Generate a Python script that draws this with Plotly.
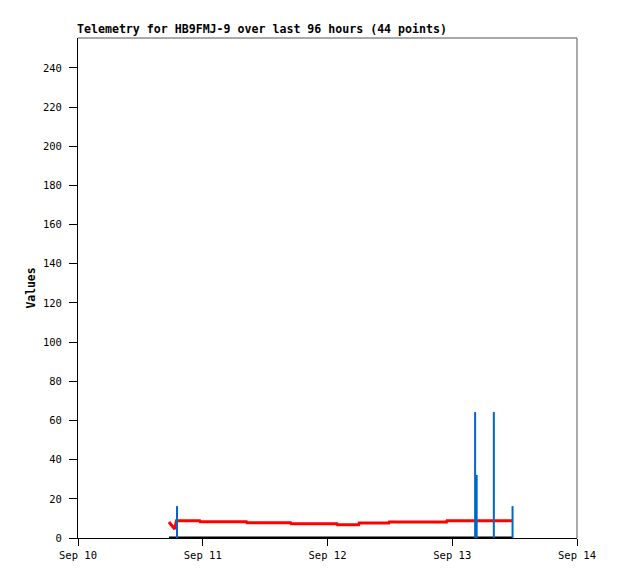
import plotly.graph_objects as go
import pandas as pd

BASE = pd.Timestamp("2023-09-10 00:00")

# Red series (hours since Sep 10 00:00, value)
red_hours = [17.5, 18.6, 18.95, 23.4, 23.5, 32.4, 32.5, 40.9, 41.0, 49.8, 49.9,
             54.0, 54.1, 59.8, 59.9, 70.9, 71.0, 83.5]
red_values = [8.2, 4.6, 8.8, 8.8, 8.3, 8.3, 7.8, 7.8, 7.3, 7.3, 6.8,
              6.8, 7.7, 7.7, 8.2, 8.2, 8.8, 8.8]

# Blue impulses
blue_hours = [19.05, 76.4, 76.7, 80.0, 83.6]
blue_values = [16.3, 64.3, 32.2, 64.3, 16.3]

# Black series (zero values)
black_hours = [17.5, 83.5]
black_values = [0, 0]

y_ticks = list(range(0, 241, 20))
x_tick_labels = ["Sep 10", "Sep 11", "Sep 12", "Sep 13", "Sep 14"]
x_tick_days = [0, 1, 2, 3, 4]


def t(h):
    return BASE + pd.Timedelta(hours=h)


MONO = "DejaVu Sans Mono"
W, H = 610, 571  # page body has an 8px margin

fig = go.Figure()

fig.add_trace(go.Scatter(
    x=[t(h) for h in black_hours], y=black_values, mode="lines",
    line=dict(color="black", width=3), showlegend=False, hoverinfo="skip"))

fig.add_trace(go.Scatter(
    x=[t(h) for h in red_hours], y=red_values, mode="lines",
    line=dict(color="#ff0000", width=3), showlegend=False, hoverinfo="skip"))

bx, by = [], []
for h, v in zip(blue_hours, blue_values):
    bx += [t(h), t(h), None]
    by += [0, v, None]
fig.add_trace(go.Scatter(
    x=bx, y=by, mode="lines", line=dict(color="#0066cc", width=2),
    showlegend=False, hoverinfo="skip"))

# frame top/right in gray
fig.add_shape(type="line", xref="paper", yref="paper", x0=0, x1=1, y0=1, y1=1,
              line=dict(color="#555555", width=1))
fig.add_shape(type="line", xref="paper", yref="paper", x0=1, x1=1, y0=0, y1=1,
              line=dict(color="#555555", width=1))

fig.update_layout(
    width=W, height=H,
    margin=dict(l=70, r=41, t=30, b=41),
    paper_bgcolor="white", plot_bgcolor="white",
    title=dict(text="<b>Telemetry for HB9FMJ-9 over last 96 hours (44 points)</b>",
               font=dict(family=MONO, size=11.6, color="black"),
               x=69 / W, xanchor="left", y=1 - 21 / H, yanchor="middle"),
    xaxis=dict(
        range=[BASE, BASE + pd.Timedelta(days=4)],
        tickvals=[BASE + pd.Timedelta(days=d) for d in x_tick_days],
        ticktext=x_tick_labels,
        ticks="outside", ticklen=7, tickcolor="black", tickwidth=1,
        showline=True, linecolor="black", linewidth=1,
        showgrid=False, zeroline=False,
        tickfont=dict(family=MONO, size=10.5, color="black"),
    ),
    yaxis=dict(
        range=[0, 255.3],
        tickvals=y_ticks,
        ticks="outside", ticklen=8, tickcolor="black", tickwidth=1,
        ticklabelstandoff=5,
        showline=True, linecolor="black", linewidth=1,
        showgrid=False, zeroline=False,
        tickfont=dict(family=MONO, size=10.5, color="black"),
        title=dict(text="<b>Values</b>", font=dict(family=MONO, size=11.4, color="black"),
                   standoff=4),
    ),
)

fig.write_html("out.html")
